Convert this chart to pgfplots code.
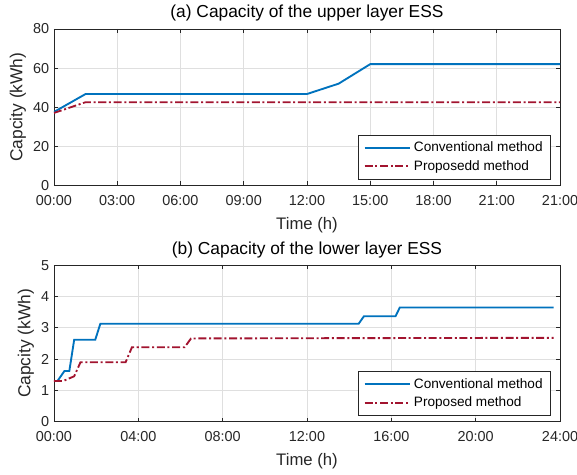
\documentclass[border=0pt]{standalone}
\usepackage{fontspec}
\setmainfont{Liberation Sans}
\usepackage{pgfplots}
\pgfplotsset{compat=1.18}
\definecolor{mblue}{RGB}{0,114,189}
\definecolor{mred}{RGB}{162,20,47}
\definecolor{axgray}{RGB}{38,38,38}
\pgfplotsset{
  essstyle/.style={
    scale only axis, width=379pt, height=117pt,
    xmin=0, xmax=24,
    axis line style={axgray, line width=0.5pt},
    tick style={axgray, line width=0.5pt},
    tick align=inside,
    major tick length=3pt,
    ticklabel style={font=\fontsize{10.8}{13}\selectfont, text=axgray},
    xticklabel style={yshift=-4pt},
    /pgf/number format/assume math mode=true,
    xlabel style={font=\fontsize{12.5}{14}\selectfont, text=axgray, yshift=-2pt},
    ylabel style={font=\fontsize{13}{15}\selectfont, text=axgray, yshift=-1.5pt},
    title style={font=\fontsize{13}{15}\selectfont, text=black, yshift=-4pt},
    grid=major,
    major grid style={line width=0.5pt, draw=gray!25},
    xlabel={Time (h)},
    ylabel={Capcity (kWh)},
    legend cell align=left,
    legend style={at={(0.982,0.038)}, anchor=south east, draw=axgray,
      font=\fontsize{10.2}{12}\selectfont, fill=white,
      inner xsep=4pt, inner ysep=3pt, row sep=1pt},
    legend image code/.code={\draw[line width=1.4pt,#1] (0cm,0cm) -- (1.2cm,0cm);},
  },
  conv/.style={mblue, line width=1.4pt},
  prop/.style={mred, line width=1.4pt, dash pattern=on 6pt off 2pt on 1.5pt off 2pt},
}
\begin{document}
\begin{tikzpicture}
\begin{axis}[essstyle,
  title={(a) Capacity of the upper layer ESS},
  ymin=0, ymax=80, ytick={0,20,40,60,80},
  xtick={0,3,6,9,12,15,18,21,24},
  xticklabels={00:00,03:00,06:00,09:00,12:00,15:00,18:00,21:00,21:00},
]
\addplot[conv] coordinates {(0,37.5) (1.5,46.7) (12,46.7) (13.5,52) (15,62) (24,62)};
\addlegendentry{Conventional method}
\addplot[prop] coordinates {(0,37) (1.5,42.5) (24,42.5)};
\addlegendentry{Proposedd method}
\end{axis}
\begin{axis}[essstyle, at={(0,-177pt)},
  title={(b) Capacity of the lower layer ESS},
  ymin=0, ymax=5, ytick={0,1,2,3,4,5},
  xtick={0,4,8,12,16,20,24},
  xticklabels={00:00,04:00,08:00,12:00,16:00,20:00,24:00},
]
\addplot[conv] coordinates {(0.17,1.3) (0.5,1.62) (0.73,1.62) (0.96,2.62) (1.96,2.62) (2.2,3.13) (14.45,3.13) (14.7,3.37) (16.2,3.37) (16.4,3.65) (23.7,3.65)};
\addlegendentry{Conventional method}
\addplot[prop] coordinates {(0,1.3) (0.45,1.3) (0.96,1.45) (1.26,1.9) (3.4,1.9) (3.7,2.38) (6.2,2.38) (6.5,2.66) (14,2.67) (23.7,2.68)};
\addlegendentry{Proposed method}
\end{axis}
\pgfresetboundingbox
\useasboundingbox (-40.4pt,-216.5pt) rectangle (391.7pt,138.7pt);
\end{tikzpicture}
\end{document}
